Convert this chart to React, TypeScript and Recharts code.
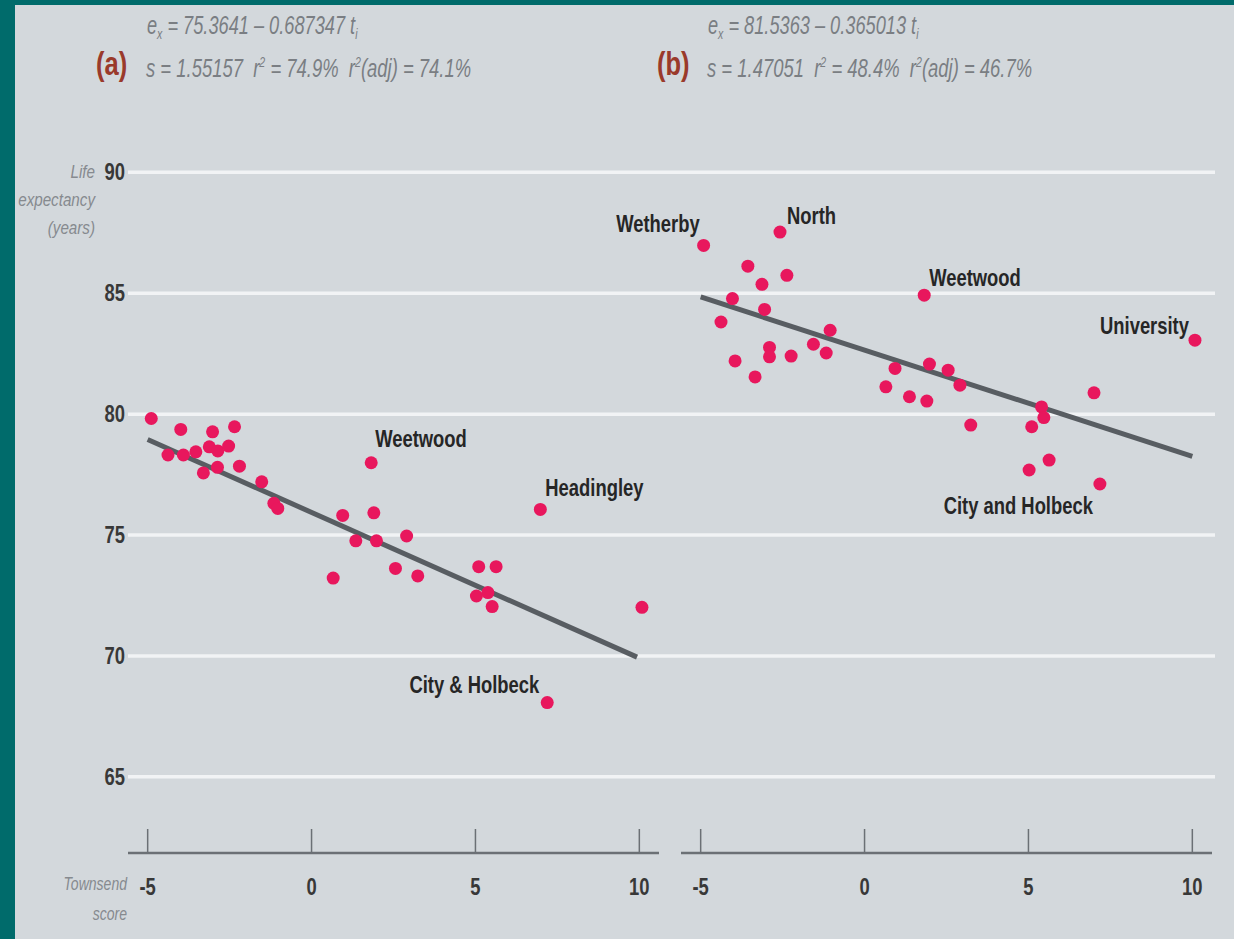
import React from "react";
import { ScatterChart, Scatter, XAxis, YAxis, ReferenceLine } from "recharts";

// Leeds wards: Townsend score (t) against life expectancy (e), two periods
type Ward = { t: number; e: number; name?: string };

const xTicks = [-5, 0, 5, 10];
const yTicks = [65, 70, 75, 80, 85, 90];

const wardsA: Ward[] = [
  { t: -4.89, e: 79.82 },
  { t: -3.99, e: 79.37 },
  { t: -4.38, e: 78.31 },
  { t: -3.91, e: 78.31 },
  { t: -3.53, e: 78.44 },
  { t: -3.3, e: 77.57 },
  { t: -3.02, e: 79.27 },
  { t: -3.12, e: 78.65 },
  { t: -2.86, e: 78.48 },
  { t: -2.87, e: 77.8 },
  { t: -2.35, e: 79.48 },
  { t: -2.53, e: 78.68 },
  { t: -2.2, e: 77.85 },
  { t: -1.52, e: 77.2 },
  { t: -1.15, e: 76.31 },
  { t: -1.03, e: 76.1 },
  { t: 1.82, e: 77.99, name: "Weetwood" },
  { t: 0.95, e: 75.81 },
  { t: 1.9, e: 75.92 },
  { t: 2.9, e: 74.96 },
  { t: 1.35, e: 74.76 },
  { t: 1.98, e: 74.76 },
  { t: 0.66, e: 73.22 },
  { t: 2.56, e: 73.62 },
  { t: 3.24, e: 73.31 },
  { t: 6.98, e: 76.06, name: "Headingley" },
  { t: 5.1, e: 73.69 },
  { t: 5.63, e: 73.69 },
  { t: 5.03, e: 72.48 },
  { t: 5.38, e: 72.62 },
  { t: 5.51, e: 72.04 },
  { t: 10.08, e: 72.01 },
  { t: 7.19, e: 68.07, name: "City & Holbeck" },
];

const wardsB: Ward[] = [
  { t: -4.91, e: 86.98, name: "Wetherby" },
  { t: -2.58, e: 87.53, name: "North" },
  { t: -3.56, e: 86.12 },
  { t: -3.13, e: 85.37 },
  { t: -2.37, e: 85.74 },
  { t: -4.03, e: 84.78 },
  { t: -3.05, e: 84.33 },
  { t: -4.38, e: 83.81 },
  { t: -1.05, e: 83.47 },
  { t: -1.56, e: 82.89 },
  { t: -1.17, e: 82.53 },
  { t: -3.95, e: 82.2 },
  { t: -2.9, e: 82.76 },
  { t: -2.9, e: 82.37 },
  { t: -2.24, e: 82.4 },
  { t: -3.34, e: 81.54 },
  { t: 0.93, e: 81.89 },
  { t: 0.65, e: 81.13 },
  { t: 1.82, e: 84.92, name: "Weetwood" },
  { t: 10.08, e: 83.06, name: "University" },
  { t: 1.98, e: 82.07 },
  { t: 2.55, e: 81.82 },
  { t: 2.91, e: 81.2 },
  { t: 1.37, e: 80.72 },
  { t: 1.9, e: 80.54 },
  { t: 3.24, e: 79.55 },
  { t: 7.0, e: 80.88 },
  { t: 5.4, e: 80.3 },
  { t: 5.47, e: 79.86 },
  { t: 5.1, e: 79.48 },
  { t: 5.63, e: 78.1 },
  { t: 5.02, e: 77.69 },
  { t: 7.18, e: 77.11, name: "City and Holbeck" },
];

// fitted lines as drawn (end points)
const fitA = [
  { t: -5, e: 78.95 },
  { t: 9.93, e: 69.95 },
];
const fitB = [
  { t: -5, e: 84.85 },
  { t: 10, e: 78.25 },
];

const coefA = ["75.3641", "0.687347"];
const statsA = ["1.55157", "74.9%", "74.1%"];
const coefB = ["81.5363", "0.365013"];
const statsB = ["1.47051", "48.4%", "46.7%"];

const W = 1234;
const H = 939;
const TOP = 124;
const Y_DOMAIN: [number, number] = [61.85, 92];
const X_DOMAIN: [number, number] = [-5.6, 10.6];
const PANEL_W = 531;

const FONT = '"Liberation Sans", Arial, sans-serif';
const BG = "#d3d8dc";
const TEAL = "#006b6b";
const PINK = "#e8175d";
const FIT = "#585d62";
const AXIS = "#6b7075";
const INK = "#262626";
const GREY = "#7a7e83";
const NARROW = 0.8;

// text squeezed horizontally to imitate the condensed face of the original
function SText({
  x,
  y,
  sx = NARROW,
  anchor = "start",
  children,
  ...rest
}: {
  x: number;
  y: number;
  sx?: number;
  anchor?: "start" | "middle" | "end";
  children: React.ReactNode;
  [k: string]: any;
}) {
  return (
    <g transform={`translate(${x}, ${y}) scale(${sx}, 1)`}>
      <text x={0} y={0} textAnchor={anchor} fontFamily={FONT} {...rest}>
        {children}
      </text>
    </g>
  );
}

type Placement = { dx: number; dy: number; anchor: "start" | "end" };

const placeA: Record<string, Placement> = {
  Weetwood: { dx: 4, dy: -16, anchor: "start" },
  Headingley: { dx: 5, dy: -13, anchor: "start" },
  "City & Holbeck": { dx: -8, dy: -10, anchor: "end" },
};
const placeB: Record<string, Placement> = {
  Wetherby: { dx: -4, dy: -13, anchor: "end" },
  North: { dx: 7, dy: -8, anchor: "start" },
  Weetwood: { dx: 5, dy: -9, anchor: "start" },
  University: { dx: -6, dy: -6, anchor: "end" },
  "City and Holbeck": { dx: -7, dy: 30, anchor: "end" },
};

function makeDot(place: Record<string, Placement>) {
  return function Dot(props: any) {
    const { cx, cy, payload } = props;
    const p = payload.name ? place[payload.name] : null;
    return (
      <g>
        <circle cx={cx} cy={cy} r={6.5} fill={PINK} />
        {p && (
          <SText x={cx + p.dx} y={cy + p.dy} anchor={p.anchor} fontWeight="bold" fontSize={23} fill={INK}>
            {payload.name}
          </SText>
        )}
      </g>
    );
  };
}

function XTick(props: any) {
  const { x, y, payload } = props;
  return (
    <g>
      <line x1={x} x2={x} y1={y - 24} y2={y} stroke={AXIS} strokeWidth={1.5} />
      <SText x={x} y={y + 42} anchor="middle" fontWeight="bold" fontSize={23} fill="#383838">
        {payload.value}
      </SText>
    </g>
  );
}

function YTick(props: any) {
  const { x, y, payload } = props;
  return (
    <SText x={x} y={y + 8} anchor="end" fontWeight="bold" fontSize={23} fill="#383838">
      {payload.value}
    </SText>
  );
}

function Panel({
  left,
  wards,
  fit,
  place,
}: {
  left: number;
  wards: Ward[];
  fit: { t: number; e: number }[];
  place: Record<string, Placement>;
}) {
  return (
    <div style={{ position: "absolute", left: 0, top: 0 }}>
      <ScatterChart
        width={W}
        height={H}
        margin={{ top: TOP, right: W - left - PANEL_W, bottom: 46, left }}
      >
        <XAxis
          type="number"
          dataKey="t"
          domain={X_DOMAIN}
          ticks={xTicks}
          height={40}
          axisLine={{ stroke: AXIS, strokeWidth: 2.5 }}
          tickLine={false}
          tickSize={0}
          tickMargin={0}
          tick={<XTick />}
        />
        <YAxis type="number" dataKey="e" domain={Y_DOMAIN} hide />
        <Scatter
          data={fit}
          line={{ stroke: FIT, strokeWidth: 5 }}
          shape={() => <g />}
          isAnimationActive={false}
        />
        <Scatter data={wards} shape={makeDot(place)} isAnimationActive={false} />
      </ScatterChart>
    </div>
  );
}

function Header({ x, letter, coef, stats }: { x: number; letter: string; coef: string[]; stats: string[] }) {
  const eq = { fontStyle: "italic", fontSize: 26, fill: GREY };
  return (
    <g>
      <SText x={x} y={75} sx={0.75} fontWeight="bold" fontSize={34} fill="#9a3a2b">
        ({letter})
      </SText>
      <SText x={x + 51} y={34} sx={0.7} {...eq}>
        e<tspan fontSize={15} dy={5}>x</tspan>
        <tspan dy={-5}>{` = ${coef[0]} – ${coef[1]} t`}</tspan>
        <tspan fontSize={15} dy={5}>i</tspan>
      </SText>
      <SText x={x + 50} y={77} sx={0.71} xmlSpace="preserve" {...eq}>
        {`s = ${stats[0]}  r`}
        <tspan fontSize={15} dy={-10}>2</tspan>
        <tspan dy={10}>{` = ${stats[1]}  r`}</tspan>
        <tspan fontSize={15} dy={-10}>2</tspan>
        <tspan dy={10}>{`(adj) = ${stats[2]}`}</tspan>
      </SText>
    </g>
  );
}

export default function App() {
  const label = { fontStyle: "italic", fill: "#868a8f" };
  return (
    <div
      style={{
        position: "absolute",
        left: 0,
        top: 0,
        width: W,
        height: H,
        background: TEAL,
        overflow: "hidden",
      }}
    >
      <div style={{ position: "absolute", left: 15, top: 5, width: W - 15, height: H - 5, background: BG }} />

      {/* shared y axis and grid */}
      <div style={{ position: "absolute", left: 0, top: 0 }}>
        <ScatterChart width={W} height={H} margin={{ top: TOP, right: 19, bottom: 86, left: 0 }}>
          <XAxis type="number" dataKey="t" domain={[0, 1]} hide allowDataOverflow />
          <YAxis
            type="number"
            dataKey="e"
            domain={Y_DOMAIN}
            ticks={yTicks}
            width={128}
            axisLine={false}
            tickLine={false}
            tickSize={0}
            tickMargin={3}
            tick={<YTick />}
            allowDataOverflow
          />
          {yTicks.map((v) => (
            <ReferenceLine key={v} y={v} stroke="#f1f3f5" strokeWidth={3.5} />
          ))}
          <Scatter data={[]} isAnimationActive={false} />
        </ScatterChart>
      </div>

      <Panel left={128} wards={wardsA} fit={fitA} place={placeA} />
      <Panel left={681} wards={wardsB} fit={fitB} place={placeB} />

      <svg width={W} height={H} style={{ position: "absolute", left: 0, top: 0, pointerEvents: "none" }}>
        <Header x={96} letter="a" coef={coefA} stats={statsA} />
        <Header x={657} letter="b" coef={coefB} stats={statsB} />
        <SText x={95} y={178} anchor="end" fontSize={19} {...label}>Life</SText>
        <SText x={95} y={206} anchor="end" fontSize={19} {...label}>expectancy</SText>
        <SText x={95} y={234} anchor="end" fontSize={19} {...label}>(years)</SText>
        <SText x={127} y={890} anchor="end" fontSize={18} sx={0.78} {...label}>Townsend</SText>
        <SText x={127} y={920} anchor="end" fontSize={18} sx={0.78} {...label}>score</SText>
      </svg>
    </div>
  );
}
